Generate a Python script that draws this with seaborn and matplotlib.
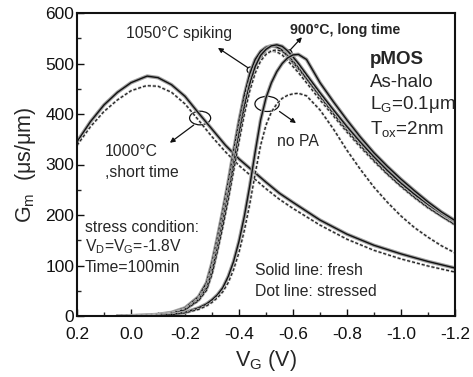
import numpy as np
import pandas as pd
import matplotlib
matplotlib.use("Agg")
import matplotlib.pyplot as plt
import matplotlib.patheffects as pe
from matplotlib.patches import Ellipse
import seaborn as sns

# ---------------- data ----------------
vg_a = [0.2, 0.15, 0.1, 0.05, 0.0, -0.05, -0.06, -0.1, -0.15, -0.2, -0.25, -0.3,
        -0.35, -0.4, -0.45, -0.5, -0.55, -0.6, -0.7, -0.8, -0.9, -1.0, -1.1, -1.2]
gm_1000_fresh = [345, 385, 418, 443, 462, 473, 475, 472, 458, 435, 402, 370,
                 338, 311, 288, 265, 243, 225, 190, 162, 140, 123, 108, 95]
gm_1000_stress = [338, 375, 405, 428, 446, 455, 456, 455, 443, 420, 388, 355,
                  325, 298, 275, 252, 231, 213, 180, 152, 130, 113, 99, 87]

vg_b = [0.05, 0.0, -0.05, -0.1, -0.15, -0.2, -0.25, -0.28, -0.3, -0.32, -0.34, -0.36,
        -0.38, -0.4, -0.42, -0.44, -0.46, -0.48, -0.5, -0.52, -0.54, -0.56, -0.58,
        -0.6, -0.62, -0.65, -0.7, -0.75, -0.8, -0.85, -0.9, -0.95, -1.0, -1.05,
        -1.1, -1.15, -1.2]
gm_1050_fresh = [0, 0.5, 1.5, 3, 7, 16, 38, 66, 105, 155, 208, 265,
                 327, 386, 438, 480, 508, 524, 532, 535, 533, 526, 515,
                 502, 490, 470, 436, 404, 372, 342, 313, 286, 262, 240,
                 220, 202, 186]
gm_1050_stress = [0, 0.5, 1.5, 3, 6, 14, 35, 60, 97, 146, 198, 254,
                  315, 373, 425, 466, 495, 512, 521, 525, 523, 517, 506,
                  494, 482, 462, 428, 396, 364, 334, 306, 280, 256, 234,
                  214, 197, 180]
gm_900_fresh = [0, 0.3, 1, 2.5, 5.5, 13, 32, 55, 88, 135, 186, 240,
                300, 360, 415, 460, 494, 516, 528, 535, 537, 534, 525,
                513, 500, 478, 442, 408, 375, 344, 315, 288, 263, 241,
                221, 203, 187]
gm_900_stress = [0, 0.3, 1, 2.5, 5, 12, 30, 51, 82, 127, 176, 229,
                 287, 345, 400, 446, 481, 505, 518, 525, 527, 524, 516,
                 505, 492, 470, 434, 400, 367, 337, 308, 281, 257, 235,
                 215, 197, 181]
gm_nopa_fresh = [0, 0, 0, 1, 3, 7, 16, 24, 32, 42, 56, 78,
                 108, 148, 198, 258, 325, 388, 432, 462, 484, 500, 511,
                 517, 518, 508, 462, 424, 388, 354, 323, 296, 271, 248,
                 226, 206, 189]
gm_nopa_stress = [0, 0, 0, 1, 2.5, 6, 13, 20, 27, 36, 48, 66,
                  92, 126, 170, 222, 282, 338, 378, 404, 420, 431, 437,
                  440, 441, 436, 408, 370, 328, 290, 255, 225, 198, 175,
                  156, 139, 125]

x_ticks = [0.2, 0.0, -0.2, -0.4, -0.6, -0.8, -1.0, -1.2]
x_ticklabels = ["0.2", "0.0", "-0.2", "-0.4", "-0.6", "-0.8", "-1.0", "-1.2"]
y_ticks = [0, 100, 200, 300, 400, 500, 600]
y_ticklabels = ["0", "100", "200", "300", "400", "500", "600"]

# ---------------- style ----------------
sns.set_style("ticks")
plt.rcParams['font.family'] = ['Liberation Sans', 'DejaVu Sans']
plt.rcParams['mathtext.fontset'] = 'custom'
plt.rcParams['mathtext.rm'] = 'Liberation Sans'
plt.rcParams['mathtext.it'] = 'Liberation Sans'
plt.rcParams['mathtext.bf'] = 'Liberation Sans:bold'
plt.rcParams['axes.unicode_minus'] = False

fig = plt.figure(figsize=(4.73, 3.77), dpi=100)
ax = fig.add_axes([77/473, 61/377, 378/473, 303/377])

solid_fx = [pe.Stroke(linewidth=2.6, foreground='#a0a0a0'), pe.Normal()]
dot_fx = [pe.Stroke(linewidth=2.0, foreground='#c8c8c8'), pe.Normal()]

curves = [
    (vg_a, gm_1000_fresh, 'solid'),
    (vg_a, gm_1000_stress, 'dot'),
    (vg_b, gm_1050_fresh, 'solid'),
    (vg_b, gm_1050_stress, 'dot'),
    (vg_b, gm_900_fresh, 'solid'),
    (vg_b, gm_900_stress, 'dot'),
    (vg_b, gm_nopa_fresh, 'solid'),
    (vg_b, gm_nopa_stress, 'dot'),
]
for xs, ys, kind in curves:
    df = pd.DataFrame({'VG': xs, 'Gm': ys})
    if kind == 'solid':
        sns.lineplot(data=df, x='VG', y='Gm', ax=ax, color='#111111', lw=1.0,
                     sort=False, estimator=None, path_effects=solid_fx)
    else:
        sns.lineplot(data=df, x='VG', y='Gm', ax=ax, color='#222222', lw=0.9,
                     sort=False, estimator=None, linestyle=(0, (2.5, 1.5)),
                     path_effects=dot_fx)

# ---------------- axes ----------------
ax.set_xlim(0.2, -1.2)
ax.set_ylim(0, 600)
ax.set_xticks(x_ticks)
ax.set_xticklabels(x_ticklabels)
ax.set_yticks(y_ticks)
ax.set_yticklabels(y_ticklabels)
ax.set_xticks(np.arange(-1.1, 0.2, 0.2), minor=True)
ax.set_yticks(np.arange(50, 600, 100), minor=True)
ax.tick_params(axis='both', which='major', direction='in', length=5, width=1.0,
               labelsize=12.5, colors='#111111')
ax.tick_params(axis='x', which='major', pad=8)
ax.tick_params(axis='y', which='major', pad=2)
ax.tick_params(axis='both', which='minor', direction='in', length=3, width=1.0)
for s in ax.spines.values():
    s.set_linewidth(1.5)
    s.set_color('#111111')
    s.set_visible(True)
ax.set_xlabel(r"V$_\mathrm{G}$ (V)", fontsize=15.5, labelpad=4)
ax.set_ylabel(r"G$_\mathrm{m}$  (μs/μm)", fontsize=15.5, labelpad=5)

# ---------------- annotations ----------------
fs = 11.3
ax.text(0.018, 560, "1050°C spiking", fontsize=fs, ha='left', va='center')
ax.text(-0.589, 567, "900°C, long time", fontsize=10.2, fontweight='bold',
        ha='left', va='center')
ax.text(-0.885, 507, "pMOS", fontsize=13.5, fontweight='bold', ha='left', va='center')
ax.text(-0.885, 462, "As-halo", fontsize=13.5, ha='left', va='center')
ax.text(-0.885, 418, r"L$_\mathrm{G}$=0.1μm", fontsize=13.5, ha='left', va='center')
ax.text(-0.885, 370, r"T$_\mathrm{ox}$=2nm", fontsize=13.5, ha='left', va='center')
ax.text(-0.541, 345, "no PA", fontsize=fs, ha='left', va='center')
ax.text(0.096, 325, "1000°C", fontsize=fs, ha='left', va='center')
ax.text(0.096, 285, ",short time", fontsize=fs, ha='left', va='center')
ax.text(0.17, 176, "stress condition:", fontsize=fs, ha='left', va='center')
ax.text(0.17, 137, r"V$_\mathrm{D}$=V$_\mathrm{G}$=-1.8V", fontsize=fs,
        ha='left', va='center')
ax.text(0.17, 97, "Time=100min", fontsize=fs, ha='left', va='center')
ax.text(-0.459, 91, "Solid line: fresh", fontsize=fs, ha='left', va='center')
ax.text(-0.459, 48, "Dot line: stressed", fontsize=fs, ha='left', va='center')

ax.add_patch(Ellipse((-0.256, 392), 0.078, 27, fill=False, lw=0.9, ec='#111111'))
ax.add_patch(Ellipse((-0.504, 420), 0.09, 30, fill=False, lw=0.9, ec='#111111'))
ax.add_patch(Ellipse((-0.441, 487), 0.022, 12, fill=False, lw=0.9, ec='#111111'))
ax.add_patch(Ellipse((-0.585, 521), 0.022, 12, fill=False, lw=0.9, ec='#111111'))

arrow = dict(arrowstyle='-|>', color='#111111', lw=0.9, mutation_scale=7,
             shrinkA=0, shrinkB=0)
ax.annotate('', xy=(-0.144, 343), xytext=(-0.232, 378), arrowprops=arrow)
ax.annotate('', xy=(-0.322, 531), xytext=(-0.432, 492), arrowprops=arrow)
ax.annotate('', xy=(-0.633, 552), xytext=(-0.59, 527), arrowprops=arrow)
ax.annotate('', xy=(-0.611, 382), xytext=(-0.55, 405), arrowprops=arrow)

fig.savefig("out.png", dpi=100)
